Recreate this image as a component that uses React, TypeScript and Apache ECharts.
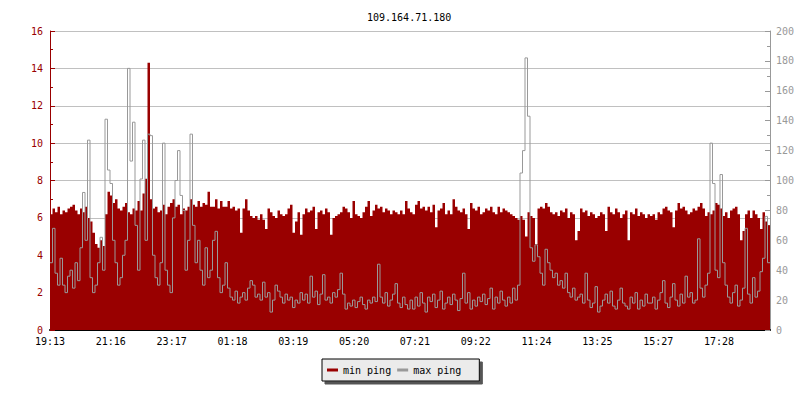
import React, { useEffect, useRef } from "react";
import * as echarts from "echarts";

// 5-minute samples over 24h, 19:13 -> 19:13 (288 points)
const minPing: number[] = [
  6.2, 6.5, 6.3, 6.6, 6.2, 6.4, 6.3, 6.5, 6.6, 6.7, 6.4, 6.2, 6.5, 6.3, 6.6, 6.0, 5.8, 5.2, 4.6, 4.4, 4.8, 4.5, 6.2, 7.4,
  7.2, 6.8, 7.0, 6.5, 6.4, 6.6, 6.8, 6.3, 6.2, 6.5, 6.4, 6.9, 6.4, 7.3, 8.1, 14.3, 7.0, 6.5, 6.6, 6.3, 6.4, 6.7, 6.2, 6.6,
  6.8, 7.0, 6.6, 6.7, 6.2, 6.5, 6.4, 6.6, 7.0, 6.7, 6.6, 6.9, 6.6, 6.8, 6.7, 7.4, 6.6, 6.6, 7.0, 6.5, 6.9, 6.6, 6.6, 6.9,
  6.5, 6.6, 6.4, 6.5, 5.2, 6.5, 7.0, 6.4, 6.1, 6.0, 6.1, 5.9, 6.2, 5.9, 5.4, 6.5, 6.3, 6.1, 6.0, 6.4, 6.2, 6.1, 6.2, 6.5,
  6.7, 5.2, 5.8, 6.3, 5.1, 6.2, 6.5, 6.3, 6.4, 6.6, 5.4, 6.3, 6.4, 6.2, 6.5, 6.3, 5.1, 6.0, 6.1, 6.2, 6.3, 6.6, 6.5, 6.3,
  6.0, 6.9, 6.2, 6.1, 6.0, 6.3, 6.6, 6.9, 6.1, 6.4, 6.7, 6.5, 6.6, 6.3, 6.5, 6.4, 6.2, 6.4, 6.3, 6.2, 6.4, 6.2, 6.9, 6.5,
  6.3, 6.2, 6.7, 6.9, 6.5, 6.6, 6.4, 6.6, 6.3, 6.7, 5.5, 6.4, 6.5, 6.8, 6.2, 6.4, 6.2, 7.0, 6.6, 6.4, 6.3, 6.5, 6.2, 5.4,
  6.8, 6.5, 6.4, 6.6, 6.2, 6.3, 6.5, 6.4, 6.6, 6.3, 6.2, 6.6, 6.3, 6.5, 6.4, 6.3, 6.2, 6.1, 6.0, 5.9, 6.1, 5.9, 5.0, 6.3,
  6.1, 6.0, 4.6, 6.5, 6.6, 6.5, 6.8, 6.6, 6.3, 6.2, 6.3, 6.1, 6.4, 6.3, 6.5, 6.0, 6.3, 6.2, 4.8, 5.3, 6.5, 6.3, 6.4, 6.1,
  6.3, 6.2, 6.0, 6.1, 6.3, 6.2, 5.3, 6.6, 6.3, 6.2, 6.5, 6.3, 6.0, 6.2, 6.4, 4.8, 6.3, 6.2, 6.5, 6.1, 6.3, 6.2, 6.0, 6.2,
  6.1, 6.2, 5.9, 6.3, 6.2, 6.5, 6.6, 6.4, 6.3, 5.5, 6.4, 6.8, 6.5, 6.6, 6.4, 6.2, 6.3, 6.5, 6.4, 6.6, 6.8, 6.5, 6.1, 6.3,
  6.2, 6.4, 6.8, 6.7, 6.5, 6.1, 6.3, 6.0, 6.4, 6.5, 6.6, 6.2, 4.8, 5.3, 6.2, 6.4, 6.0, 6.4, 6.2, 6.0, 5.4, 6.3, 5.8, 5.6,
];

const maxPing: number[] = [
  45, 68, 38, 30, 48, 30, 25, 36, 40, 28, 45, 33, 55, 92, 60, 127, 35, 25, 30, 45, 62, 40, 141, 107,
  98, 60, 45, 30, 35, 50, 60, 175, 113, 139, 70, 40, 101, 127, 60, 131, 130, 50, 35, 30, 45, 125, 40, 30,
  25, 75, 100, 120, 90, 80, 40, 60, 131, 70, 45, 60, 40, 30, 55, 35, 40, 60, 66, 35, 25, 30, 45, 28,
  22, 20, 26, 18, 22, 25, 20, 28, 33, 30, 22, 24, 20, 32, 22, 25, 12, 20, 30, 26, 22, 18, 24, 20,
  22, 15, 20, 18, 25, 20, 24, 18, 36, 22, 26, 17, 24, 37, 20, 22, 18, 25, 22, 27, 38, 24, 14, 18,
  16, 20, 15, 19, 22, 17, 14, 20, 18, 22, 19, 44, 22, 18, 25, 16, 20, 24, 31, 18, 15, 22, 17, 14,
  20, 14, 22, 16, 25, 18, 12, 22, 19, 24, 15, 20, 26, 14, 18, 22, 17, 24, 20, 13, 21, 38, 18, 25,
  14, 20, 16, 22, 19, 24, 17, 21, 28, 14, 22, 18, 26, 20, 16, 22, 18, 28, 20, 30, 105, 120, 182, 143,
  55, 46, 57, 49, 38, 30, 54, 45, 40, 35, 38, 30, 33, 28, 38, 25, 22, 28, 20, 22, 24, 18, 38, 20,
  15, 18, 29, 12, 16, 20, 24, 18, 26, 16, 14, 20, 28, 18, 16, 14, 22, 18, 25, 14, 20, 16, 24, 18,
  18, 22, 14, 20, 25, 33, 18, 15, 22, 31, 20, 16, 24, 18, 36, 22, 25, 18, 20, 61, 28, 22, 30, 38,
  125, 98, 40, 35, 104, 45, 30, 22, 18, 25, 30, 16, 20, 28, 68, 24, 18, 35, 22, 26, 39, 48, 76, 45,
];

const timeLabels: string[] = [
  "19:13", "21:16", "23:17", "01:18", "03:19", "05:20",
  "07:21", "09:22", "11:24", "13:25", "15:27", "17:28",
];

const FONT = "'DejaVu Sans Mono', monospace";
const FS = 10;
const RED = "#990000";
const GRAY = "#999999";

export default function App() {
  const ref = useRef<HTMLDivElement>(null);

  useEffect(() => {
    if (!ref.current) return;
    const chart = echarts.init(ref.current, undefined, { renderer: "svg" });
    const N = minPing.length;
    const step = (N * 60.82) / 720; // label spacing in sample units
    const labelVals = timeLabels.map((_, k) => k * step);
    const toSeries = (arr: number[]) => {
      const d = arr.map((v, i) => [i, v]);
      d.push([N, arr[arr.length - 1]]);
      return d;
    };

    chart.setOption({
      animation: false,
      backgroundColor: "#ffffff",
      title: {
        text: "109.164.71.180",
        left: 362,
        top: 7,
        textStyle: { fontFamily: FONT, fontSize: FS, fontWeight: "normal", color: "#000" },
      },
      legend: {
        data: [
          { name: "min ping", icon: "rect", itemStyle: { color: RED } },
          { name: "max ping", icon: "rect", itemStyle: { color: GRAY } },
        ],
        left: 322,
        top: 359,
        itemWidth: 11,
        itemHeight: 3,
        itemGap: 6,
        padding: [6, 18, 6, 5],
        backgroundColor: "#ebebeb",
        borderColor: "#000",
        borderWidth: 1,
        shadowColor: "#555555",
        shadowBlur: 0,
        shadowOffsetX: 3,
        shadowOffsetY: 3,
        textStyle: { fontFamily: FONT, fontSize: FS, color: "#000" },
      },
      grid: { left: 50, right: 30, top: 31, bottom: 70, outerBoundsMode: "none" },
      xAxis: {
        type: "value",
        min: 0,
        max: N,
        splitLine: { show: false },
        axisLine: { show: true, lineStyle: { color: "#000", width: 2 } },
        axisTick: {
          show: true,
          inside: true,
          length: 5,
          customValues: labelVals,
          lineStyle: { color: "#000" },
        },
        axisLabel: {
          customValues: labelVals,
          formatter: (v: number) => {
            const k = Math.round(v / step);
            return timeLabels[k] ?? "";
          },
          color: "#000",
          fontFamily: FONT,
          fontSize: FS,
          margin: 6,
        },
      },
      yAxis: [
        {
          type: "value",
          position: "left",
          min: 0,
          max: 16,
          interval: 2,
          axisLine: { show: true, lineStyle: { color: RED, width: 1 } },
          axisTick: { show: true, inside: true, length: 5, lineStyle: { color: RED } },
          minorTick: { show: true, splitNumber: 2, length: 3, lineStyle: { color: RED } },
          axisLabel: { color: RED, fontFamily: FONT, fontSize: FS, margin: 7 },
          splitLine: { show: true, lineStyle: { color: "#c0c0c0", width: 1 } },
        },
        {
          type: "value",
          position: "right",
          min: 0,
          max: 200,
          interval: 20,
          axisLine: { show: true, lineStyle: { color: GRAY, width: 1 } },
          axisTick: { show: true, inside: true, length: 5, lineStyle: { color: GRAY } },
          minorTick: { show: true, splitNumber: 2, length: 3, lineStyle: { color: GRAY } },
          axisLabel: { color: GRAY, fontFamily: FONT, fontSize: FS, margin: 6 },
          splitLine: { show: false },
        },
      ],
      series: [
        {
          name: "min ping",
          type: "line",
          step: "end",
          yAxisIndex: 0,
          data: toSeries(minPing),
          symbol: "none",
          color: RED,
          lineStyle: { width: 0, color: RED },
          areaStyle: { color: RED, opacity: 1 },
        },
        {
          name: "max ping",
          type: "line",
          step: "end",
          yAxisIndex: 1,
          data: toSeries(maxPing),
          symbol: "none",
          color: GRAY,
          lineStyle: { width: 1, color: GRAY },
        },
      ],
    });

    return () => chart.dispose();
  }, []);

  return (
    <div
      ref={ref}
      style={{ position: "fixed", left: 0, top: 0, width: 800, height: 400, background: "#fff" }}
    />
  );
}
